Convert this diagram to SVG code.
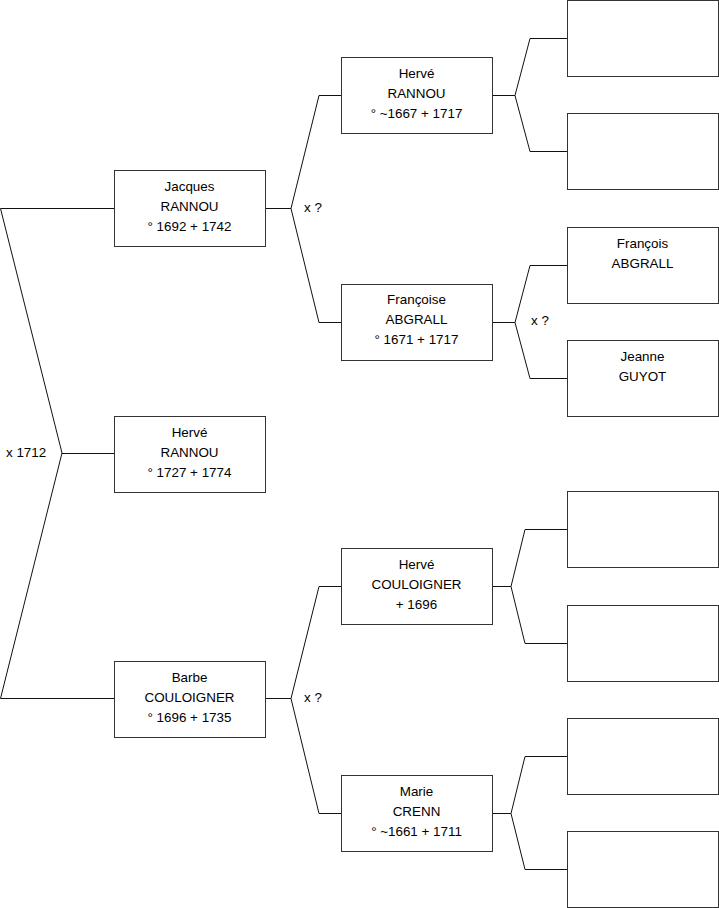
<svg xmlns="http://www.w3.org/2000/svg" width="719" height="908" viewBox="0 0 719 908">
<style>
rect.box{fill:#fff;stroke:#333;stroke-width:1}
.c{fill:none;stroke:#111;stroke-width:1}
text{font-family:"Liberation Sans",Arial,sans-serif;font-size:13.4px;fill:#000}
.m{text-anchor:middle}
</style>
<rect width="719" height="908" fill="#fff"/>
<g id="connectors">
<polyline class="c" points="114,208.5 0.5,208.5 62,453 0.5,698.5 114,698.5"/>
<line class="c" x1="62" y1="453.5" x2="114" y2="453.5"/>
<polyline class="c" points="341,95.5 319,95.5 291,208.5 319,322.5 341,322.5"/>
<line class="c" x1="265" y1="208.5" x2="291" y2="208.5"/>
<polyline class="c" points="341,586.5 319,586.5 291,698.5 319,813.5 341,813.5"/>
<line class="c" x1="265" y1="698.5" x2="291" y2="698.5"/>
<polyline class="c" points="567,38.5 530,38.5 515,95.5 530,151.5 567,151.5"/>
<line class="c" x1="492" y1="95.5" x2="515" y2="95.5"/>
<polyline class="c" points="567,265.5 530,265.5 515,322.5 530,378.5 567,378.5"/>
<line class="c" x1="492" y1="322.5" x2="515" y2="322.5"/>
<polyline class="c" points="567,529.5 525,529.5 511,586.5 525,643.5 567,643.5"/>
<line class="c" x1="492" y1="586.5" x2="511" y2="586.5"/>
<polyline class="c" points="567,756.5 525,756.5 511,813.5 525,869.5 567,869.5"/>
<line class="c" x1="492" y1="813.5" x2="511" y2="813.5"/>
<text x="6" y="457">x 1712</text>
<text x="304" y="212">x ?</text>
<text x="304" y="702">x ?</text>
<text x="531" y="325">x ?</text>
</g>
<g id="n-jacques">
<rect class="box" x="114.5" y="170.5" width="151" height="76"/>
<text class="m" x="189.5" y="191">Jacques</text>
<text class="m" x="189.5" y="211">RANNOU</text>
<text class="m" x="189.5" y="231">° 1692 + 1742</text>
</g>
<g id="n-herve-center">
<rect class="box" x="114.5" y="416.5" width="151" height="76"/>
<text class="m" x="189.5" y="437">Hervé</text>
<text class="m" x="189.5" y="457">RANNOU</text>
<text class="m" x="189.5" y="477">° 1727 + 1774</text>
</g>
<g id="n-barbe">
<rect class="box" x="114.5" y="661.5" width="151" height="76"/>
<text class="m" x="189.5" y="682">Barbe</text>
<text class="m" x="189.5" y="702">COULOIGNER</text>
<text class="m" x="189.5" y="722">° 1696 + 1735</text>
</g>
<g id="n-herve-rannou">
<rect class="box" x="341.5" y="57.5" width="151" height="76"/>
<text class="m" x="416.5" y="78">Hervé</text>
<text class="m" x="416.5" y="98">RANNOU</text>
<text class="m" x="416.5" y="118">° ~1667 + 1717</text>
</g>
<g id="n-francoise">
<rect class="box" x="341.5" y="284.5" width="151" height="76"/>
<text class="m" x="416.5" y="304">Françoise</text>
<text class="m" x="416.5" y="324">ABGRALL</text>
<text class="m" x="416.5" y="344">° 1671 + 1717</text>
</g>
<g id="n-herve-couloigner">
<rect class="box" x="341.5" y="548.5" width="151" height="76"/>
<text class="m" x="416.5" y="569">Hervé</text>
<text class="m" x="416.5" y="589">COULOIGNER</text>
<text class="m" x="416.5" y="609">+ 1696</text>
</g>
<g id="n-marie">
<rect class="box" x="341.5" y="775.5" width="151" height="76"/>
<text class="m" x="416.5" y="796">Marie</text>
<text class="m" x="416.5" y="816">CRENN</text>
<text class="m" x="416.5" y="836">° ~1661 + 1711</text>
</g>
<g id="n-g3-1"><rect class="box" x="567.5" y="0.5" width="151" height="76"/></g>
<g id="n-g3-2"><rect class="box" x="567.5" y="113.5" width="151" height="76"/></g>
<g id="n-francois">
<rect class="box" x="567.5" y="227.5" width="151" height="76"/>
<text class="m" x="642.5" y="248">François</text>
<text class="m" x="642.5" y="268">ABGRALL</text>
</g>
<g id="n-jeanne">
<rect class="box" x="567.5" y="340.5" width="151" height="76"/>
<text class="m" x="642.5" y="361">Jeanne</text>
<text class="m" x="642.5" y="381">GUYOT</text>
</g>
<g id="n-g3-5"><rect class="box" x="567.5" y="491.5" width="151" height="76"/></g>
<g id="n-g3-6"><rect class="box" x="567.5" y="605.5" width="151" height="76"/></g>
<g id="n-g3-7"><rect class="box" x="567.5" y="718.5" width="151" height="76"/></g>
<g id="n-g3-8"><rect class="box" x="567.5" y="831.5" width="151" height="76"/></g>
</svg>
